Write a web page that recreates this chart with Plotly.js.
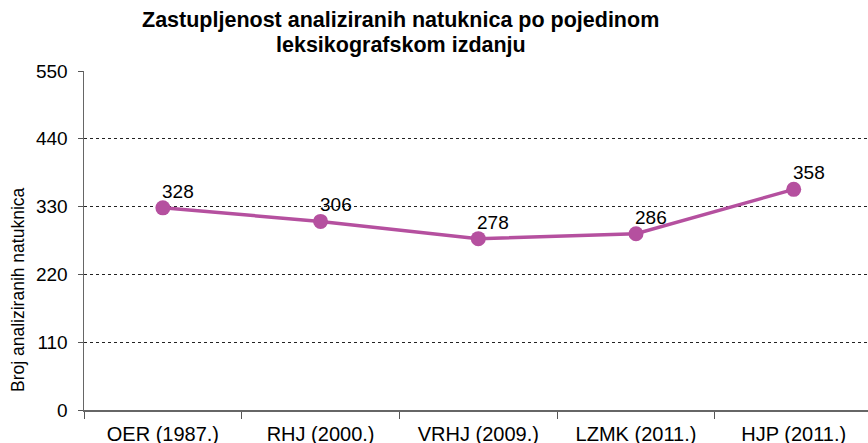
<!DOCTYPE html>
<html><head><meta charset="utf-8">
<script src="https://cdn.plot.ly/plotly-3.0.1.min.js"></script>
<style>html,body{margin:0;padding:0;background:#fff;}#chart{width:868px;height:443px;}</style>
</head><body><div id="chart"></div>
<script>
const categories = ["OER (1987.)", "RHJ (2000.)", "VRHJ (2009.)", "LZMK (2011.)", "HJP (2011.)"];
const values = [328, 306, 278, 286, 358];
const yTicks = [0, 110, 220, 330, 440, 550];
const titleLines = ["Zastupljenost analiziranih natuknica po pojedinom", "leksikografskom izdanju"];
const yTitle = "Broj analiziranih natuknica";

const font = "Liberation Sans, Arial, sans-serif";
const trace = {
  type: "scatter", mode: "lines+markers",
  x: categories, y: values,
  line: {color: "#B5509F", width: 3.5},
  marker: {color: "#B5509F", size: 15},
  hoverinfo: "skip"
};
const annotations = categories.map((c, i) => ({
  x: c, y: values[i], xref: "x", yref: "y",
  text: String(values[i]), showarrow: false,
  xanchor: "left", yanchor: "bottom", xshift: -3, yshift: 4,
  font: {family: font, size: 19, color: "#000"}
}));
annotations.push({
  xref: "paper", yref: "paper", x: (400 - 84) / 784, y: 1 + (71 - 20) / 339,
  xanchor: "center", yanchor: "middle", showarrow: false,
  text: "<b>" + titleLines[0] + "</b>",
  font: {family: font, size: 21.5, color: "#000"}
});
annotations.push({
  xref: "paper", yref: "paper", x: (401 - 84) / 784, y: 1 + (71 - 45) / 339,
  xanchor: "center", yanchor: "middle", showarrow: false,
  text: "<b>" + titleLines[1] + "</b>",
  font: {family: font, size: 21.5, color: "#000"}
});
annotations.push({
  xref: "paper", yref: "paper", x: (18 - 84) / 784, y: (410 - 290) / 339,
  xanchor: "center", yanchor: "middle",
  text: yTitle, textangle: -90, showarrow: false,
  font: {family: font, size: 17.5, color: "#000"}
});
const layout = {
  width: 868, height: 443,
  margin: {l: 84, r: 0, t: 71, b: 33},
  paper_bgcolor: "#fff", plot_bgcolor: "#fff",
  showlegend: false,
  xaxis: {
    type: "category", range: [-0.5, 4.471],
    tickson: "boundaries", ticks: "outside", ticklen: 7, tickcolor: "#555",
    showline: true, linecolor: "#666", linewidth: 1.5,
    showgrid: false, zeroline: false, ticklabelstandoff: 5,
    tickfont: {family: font, size: 20, color: "#000"}
  },
  yaxis: {
    range: [0, 550], tickvals: yTicks, ticktext: yTicks.map(String),
    ticks: "outside", ticklen: 5, tickcolor: "#555",
    showline: true, linecolor: "#666", linewidth: 1.5,
    showgrid: true, gridcolor: "#222", griddash: "dot", gridwidth: 1,
    zeroline: false, ticklabelstandoff: 6,
    tickfont: {family: font, size: 19, color: "#000"}
  },
  annotations: annotations
};
Plotly.newPlot("chart", [trace], layout, {displayModeBar: false, staticPlot: true});
</script></body></html>
